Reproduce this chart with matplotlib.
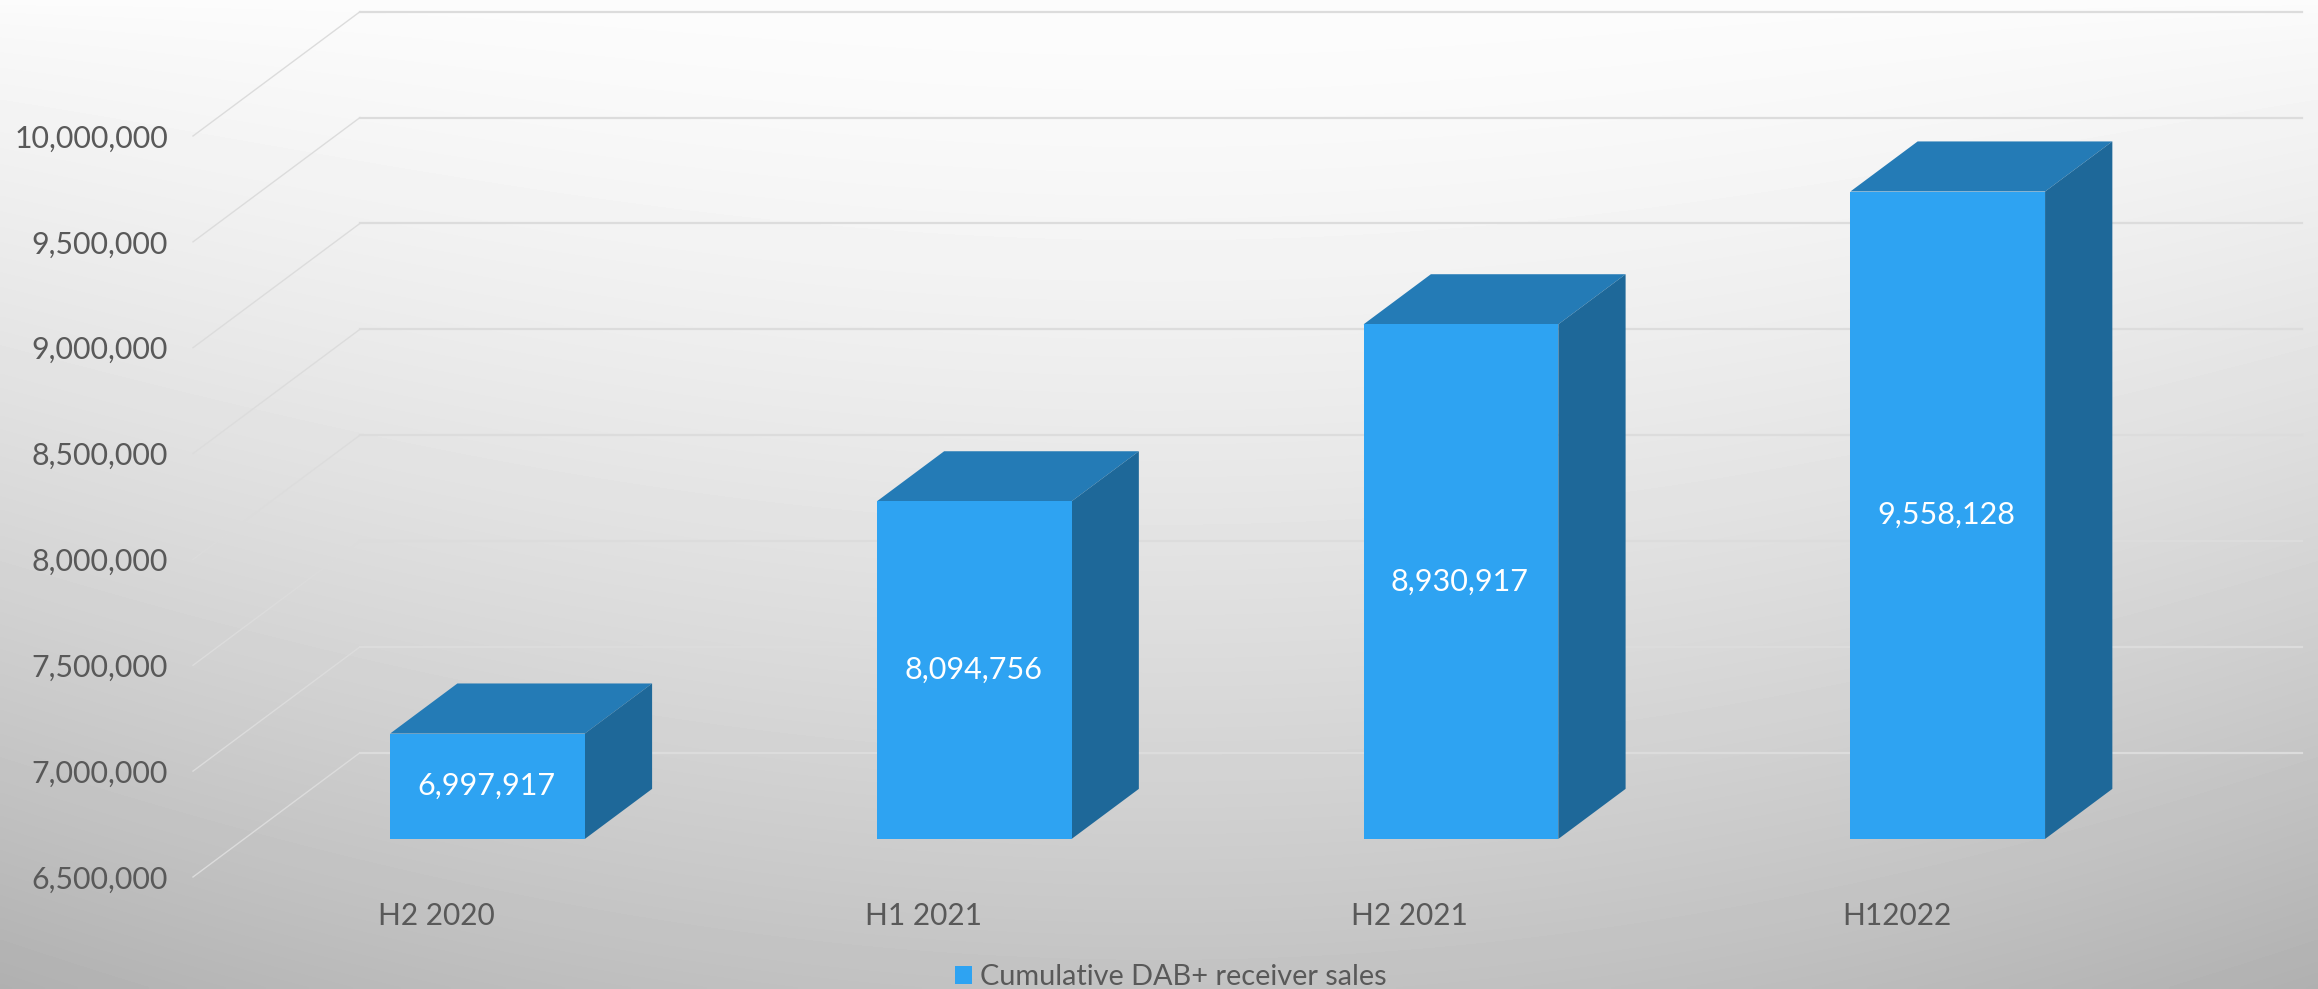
import numpy as np
import matplotlib
matplotlib.use("Agg")
import matplotlib.pyplot as plt

plt.rcParams['font.family'] = ['Lato', 'DejaVu Sans']

# Data
periods = ['H2 2020', 'H1 2021', 'H2 2021', 'H12022']
sales = [6997917, 8094756, 8930917, 9558128]
series_name = 'Cumulative DAB+ receiver sales'
y_ticks = [6500000, 7000000, 7500000, 8000000, 8500000, 9000000, 9500000, 10000000]

# Colours
front_col = '#2ea3f2'
top_col = '#247bb6'
side_col = '#1e6899'
grid_col = '#dcdcdc'
text_col = '#595959'

W, H = 2318, 989
fig = plt.figure(figsize=(W / 100, H / 100), dpi=100)

# Background gradient, light at the top centre and grey towards the corners
bg = fig.add_axes([0, 0, 1, 1], zorder=0)
xx, yy = np.meshgrid(np.linspace(-1, 1, 580), np.linspace(0, 1, 250))
shade = 252 - 58 * yy ** 1.4 - 18 * xx ** 2 * yy ** 0.5
bg.imshow(shade, cmap='gray', vmin=0, vmax=255, aspect='auto', interpolation='bilinear')
bg.axis('off')

# Main axes is the front edge of the floor and wall of the 3D box
ax = fig.add_axes([193 / W, 1 - 877 / H, 1947 / W, 741 / H], zorder=1)
ax.patch.set_alpha(0)
ax.set_xlim(-0.5, 3.5)
ax.set_ylim(6500000, 10000000)
for s in ax.spines.values():
    s.set_visible(False)

# depth of the box in data units
depth_x = 0.343
depth_y = 587000
bar_start = 0.306
bar_end = 0.709
bar_width = 0.4
wall_right = 3.49
base = y_ticks[0]

# gridlines running along the side wall and the back wall
for v in y_ticks:
    ax.plot([-0.5, -0.5 + depth_x], [v, v + depth_y], color=grid_col, lw=1.0,
            clip_on=False, zorder=1)
    ax.plot([-0.5 + depth_x, wall_right + depth_x], [v + depth_y, v + depth_y],
            color=grid_col, lw=1.6, clip_on=False, zorder=1)

x = np.arange(len(periods))
shift_x = bar_start * depth_x
shift_y = bar_start * depth_y
dx = (bar_end - bar_start) * depth_x
dy = (bar_end - bar_start) * depth_y

bars = ax.bar(x + shift_x, np.array(sales) - base, bottom=base + shift_y, width=bar_width,
              color=front_col, label=series_name, clip_on=False, zorder=4)

for i, val in enumerate(sales):
    left = i + shift_x - bar_width / 2
    right = i + shift_x + bar_width / 2
    low = base + shift_y
    high = val + shift_y
    ax.fill([left, right, right + dx, left + dx], [high, high, high + dy, high + dy],
            color=top_col, lw=0, clip_on=False, zorder=3)
    ax.fill([right, right + dx, right + dx, right], [low, low + dy, high + dy, high],
            color=side_col, lw=0, clip_on=False, zorder=3)
    ax.text(i + shift_x - 0.002, (low + high) / 2, f'{val:,}', color='white', fontsize=22,
            ha='center', va='center', zorder=5)

ax.set_xticks(x)
ax.set_xticklabels(periods)
ax.set_yticks(y_ticks)
ax.set_yticklabels([f'{v:,}' for v in y_ticks])
ax.tick_params(axis='x', length=0, pad=18, labelsize=21.5, labelcolor=text_col)
ax.tick_params(axis='y', length=0, pad=18, labelsize=21.8, labelcolor=text_col)

ax.legend(handles=[bars], loc='center', bbox_to_anchor=(1171 / W, 1 - 977 / H),
          bbox_transform=fig.transFigure, frameon=False, fontsize=20.8, labelcolor=text_col,
          handlelength=0.58, handleheight=0.58, handletextpad=0.3,
          borderpad=0, borderaxespad=0)

fig.savefig('out.png', dpi=100)
